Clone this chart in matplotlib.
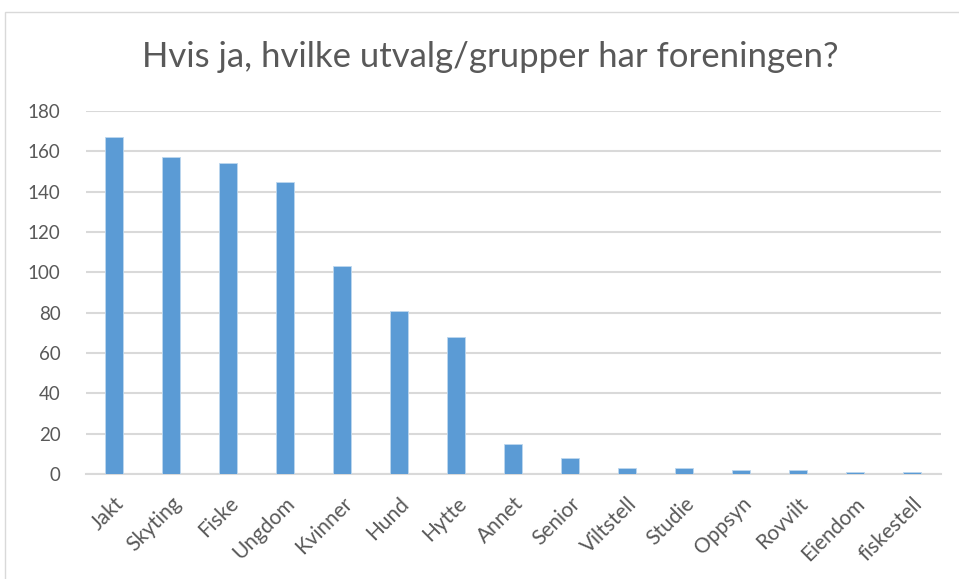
import matplotlib
matplotlib.use("Agg")
from matplotlib import pyplot as plt
from matplotlib.patches import Rectangle

categories = ["Jakt", "Skyting", "Fiske", "Ungdom", "Kvinner", "Hund", "Hytte", "Annet",
              "Senior", "Viltstell", "Studie", "Oppsyn", "Rovvilt", "Eiendom", "fiskestell"]
counts = [167, 157, 154, 145, 103, 81, 68, 15, 8, 3, 3, 2, 2, 1, 1]
y_ticks = [0, 20, 40, 60, 80, 100, 120, 140, 160, 180]

title = "Hvis ja, hvilke utvalg/grupper har foreningen?"
text_color = "#595959"
grid_color = "#d9d9d9"
bar_color = "#5b9bd5"

plt.rcParams["font.family"] = ["Lato", "DejaVu Sans"]

fig = plt.figure(figsize=(9.59, 5.79), dpi=100)
fig.patches.append(Rectangle((5 / 959, -0.1), 1.2, 1 - 12 / 579 + 0.1,
                             transform=fig.transFigure, fill=False,
                             edgecolor=grid_color, linewidth=1))

ax = fig.add_axes([85.5 / 959, 105 / 579, 855 / 959, 363 / 579])
x = range(len(categories))
ax.bar(x, counts, width=0.32, color=bar_color, edgecolor="#bdd7ee", linewidth=0.6, zorder=3)

ax.set_xlim(-0.5, len(categories) - 0.5)
ax.set_ylim(0, 180)
ax.set_yticks(y_ticks)
ax.yaxis.grid(True, color=grid_color, linewidth=1.5, zorder=0)
for side in ["top", "right", "left"]:
    ax.spines[side].set_visible(False)
ax.spines["bottom"].set_color(grid_color)
ax.spines["bottom"].set_linewidth(1.5)
ax.tick_params(axis="both", length=0, colors=text_color)
ax.tick_params(axis="y", pad=18, labelsize=13.5)
ax.set_xticks(list(x))
ax.set_xticklabels(categories, rotation=45, ha="right", va="top", rotation_mode="anchor")
ax.tick_params(axis="x", pad=14, labelsize=15)

fig.text(490 / 959, 1 - 57 / 579, title, ha="center", va="center",
         fontsize=25, color=text_color)

fig.savefig("out.png", dpi=100)
